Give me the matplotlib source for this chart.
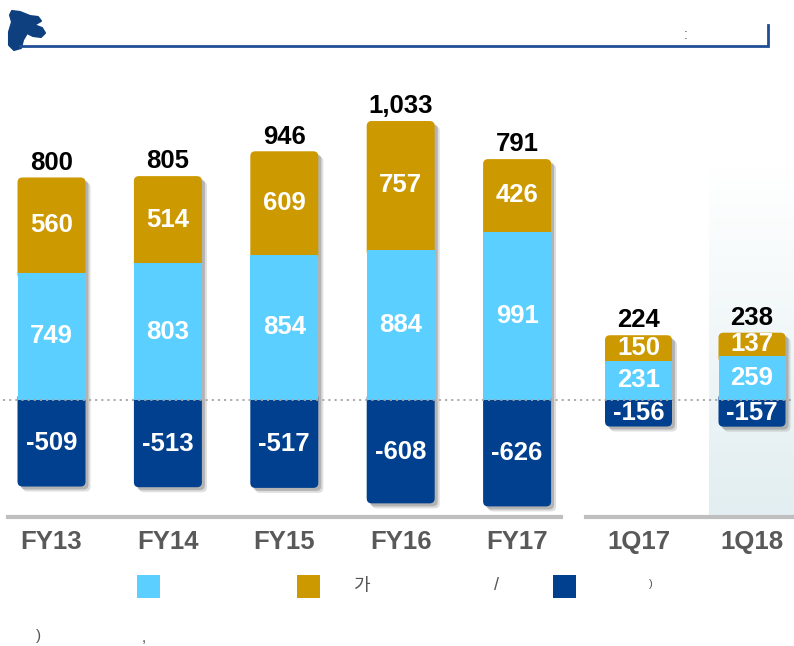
import numpy as np
import matplotlib.pyplot as plt
from matplotlib.patches import FancyBboxPatch, Rectangle, Polygon
from matplotlib.colors import LinearSegmentedColormap

plt.rcParams['font.family'] = ['Liberation Sans', 'Noto Sans CJK KR', 'DejaVu Sans']

categories = ["FY13", "FY14", "FY15", "FY16", "FY17", "1Q17", "1Q18"]
cyan_vals = [749, 803, 854, 884, 991, 231, 259]
gold_vals = [560, 514, 609, 757, 426, 150, 137]
navy_vals = [-509, -513, -517, -608, -626, -156, -157]
totals = ["800", "805", "946", "1,033", "791", "224", "238"]

CYAN = "#5BCFFF"
GOLD = "#CC9900"
NAVY = "#00408F"
GREY = "#595959"

W, H = 794, 646
ZERO = 400   # pixel row of the zero line
PX = 0.17    # pixels per unit
asp = 1 / PX


def ypx(p):
    # pixel row -> data y
    return (ZERO - p) / PX


fig = plt.figure(figsize=(W / 100, H / 100), dpi=100)
ax = fig.add_axes([0, 0, 1, 1])
ax.set_xlim(0, W)
ax.set_ylim(ypx(H), ypx(0))
ax.axis("off")

# shaded background behind the latest quarter
cmap = LinearSegmentedColormap.from_list("bg", ["#FFFFFF", "#E2EEF1"])
grad = np.linspace(0, 1, 100).reshape(-1, 1)
ax.imshow(grad, cmap=cmap, extent=[709, W, ypx(517), ypx(165)],
          aspect="auto", zorder=0)

# bars
ov = 7 * asp  # overlap of rounded end pieces under the cyan part
for i, cat in enumerate(categories):
    if i < 5:
        xc, w = 51.5 + 116.4 * i, 68
    else:
        xc, w = 638.5 + 113.5 * (i - 5), 67
    x0 = xc - w / 2
    c, g, n = cyan_vals[i], gold_vals[i], navy_vals[i]
    top = c + g
    for off, a in [(5, 0.25), (3, 0.45)]:
        ax.add_patch(FancyBboxPatch((x0 + off, n - off * asp), w, top - n,
                                    boxstyle="round,pad=0,rounding_size=5",
                                    mutation_aspect=asp, fc="#7F7F7F", ec="none",
                                    alpha=a, zorder=1))
    ax.add_patch(FancyBboxPatch((x0, c - ov), w, g + ov,
                                boxstyle="round,pad=0,rounding_size=5",
                                mutation_aspect=asp, fc=GOLD, ec="none", zorder=2))
    ax.add_patch(FancyBboxPatch((x0, n), w, ov - n,
                                boxstyle="round,pad=0,rounding_size=5",
                                mutation_aspect=asp, fc=NAVY, ec="none", zorder=2))
    ax.add_patch(Rectangle((x0, 0), w, c, fc=CYAN, ec="none", zorder=3))

    lab = dict(ha="center", va="center", color="white", fontsize=18.5,
               fontweight="bold", zorder=5)
    ax.text(xc, c / 2, f"{c:,}", **lab)
    ax.text(xc, c + g / 2, f"{g:,}", **lab)
    ax.text(xc, n / 2, f"{n:,}", **lab)
    ax.annotate(totals[i], (xc, top), xytext=(0, 2), textcoords="offset points",
                ha="center", va="bottom", fontsize=18.5, fontweight="bold",
                color="black", zorder=5)
    ax.text(xc, ypx(542), cat, ha="center", va="center", fontsize=18.5,
            fontweight="bold", color=GREY)

# zero line and base lines
ax.plot([3, W], [0, 0], color="#A6A6A6", lw=1.3, ls=(0, (1.2, 2.2)), zorder=6)
ax.plot([8, 561], [ypx(517)] * 2, color="#BFBFBF", lw=3, zorder=4)
ax.plot([586, W], [ypx(517)] * 2, color="#BFBFBF", lw=3, zorder=4)

# header
ax.plot([20, 768, 768], [ypx(46), ypx(46), ypx(25)], color="#1F4E96", lw=2,
        solid_joinstyle="miter")
logo = [(12, 11), (20, 12), (30, 16), (38, 17), (41, 21), (34, 25), (42, 28),
        (45, 33), (41, 37), (33, 36), (27, 33), (23, 40), (21, 48), (14, 50),
        (9, 45), (9, 32), (12, 22), (10, 15)]
ax.add_patch(Polygon([(x, ypx(y)) for x, y in logo], closed=True, fc="#0E3F7E",
                     ec="#0E3F7E", lw=1.5, joinstyle="round"))
ax.text(686, ypx(35), ":", ha="center", va="center", fontsize=10, color="#555555")

# legend row
for x0, col in [(137, CYAN), (297, GOLD), (553, NAVY)]:
    ax.add_patch(Rectangle((x0, ypx(598)), 23, 23 * asp, fc=col, ec="none"))
ax.text(361, ypx(586), "가", ha="center", va="center", fontsize=13,
        color="#555555", family=["Noto Sans CJK KR", "DejaVu Sans"])
ax.text(497, ypx(586), "/", ha="center", va="center", fontsize=13, color="#555555")
ax.text(651, ypx(584), ")", ha="center", va="center", fontsize=8, color="#555555")

# footnote row
ax.text(38, ypx(636), ")", ha="center", va="center", fontsize=11, color="#555555")
ax.text(144, ypx(638), ",", ha="center", va="center", fontsize=11, color="#555555")

fig.savefig("out.png", dpi=100)
